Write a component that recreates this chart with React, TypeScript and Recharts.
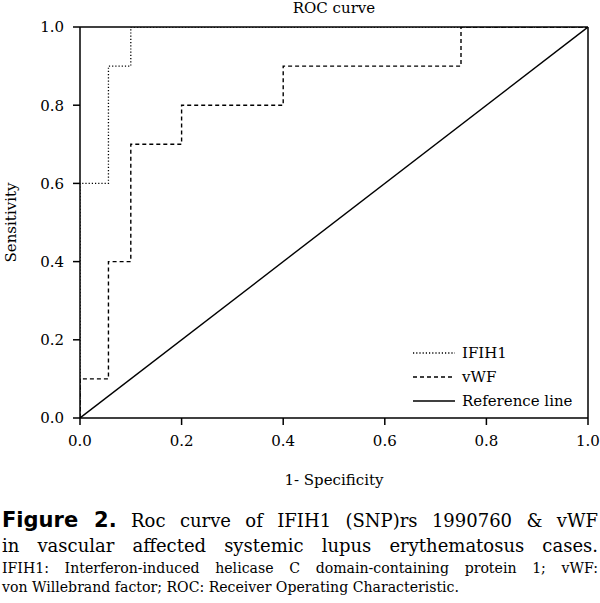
import React from 'react';
import { LineChart, Line, XAxis, YAxis, ReferenceLine, Legend } from 'recharts';

const axisTicks = [0, 0.2, 0.4, 0.6, 0.8, 1.0];
const ifih1Fpr = [0, 0, 0.056, 0.1, 1.0];
const ifih1Tpr = [0, 0.6, 0.9, 1.0, 1.0];
const vwfFpr = [0, 0, 0.056, 0.1, 0.2, 0.4, 0.75, 1.0];
const vwfTpr = [0, 0.1, 0.4, 0.7, 0.8, 0.9, 1.0, 1.0];
const refFpr = [0, 1];
const refTpr = [0, 1];
const seriesNames = ['IFIH1', 'vWF', 'Reference line'];

const titleText = 'ROC curve';
const xLabel = '1- Specificity';
const yLabel = 'Sensitivity';
const captionBold = 'Figure 2.';
const captionLine1 = ' Roc curve of IFIH1 (SNP)rs 1990760 & vWF';
const captionLine2 = 'in vascular affected systemic lupus erythematosus cases.';
const captionLine3 = 'IFIH1: Interferon-induced helicase C domain-containing protein 1; vWF:';
const captionLine4 = 'von Willebrand factor; ROC: Receiver Operating Characteristic.';

const toPoints = (xs: number[], ys: number[]) => xs.map((x, i) => ({ x, y: ys[i] }));
const ifih1Data = toPoints(ifih1Fpr, ifih1Tpr);
const vwfData = toPoints(vwfFpr, vwfTpr);
const refData = toPoints(refFpr, refTpr);

const serif = '"DejaVu Serif", serif';
const dashes = ['1.2 2', '4 3', undefined];
const widths = [1.3, 1.4, 1.4];

const LegendBox = () => (
  <div style={{ fontFamily: serif, fontSize: 15, color: '#000' }}>
    {seriesNames.map((name, i) => (
      <div key={name} style={{ display: 'flex', alignItems: 'center', height: 24 }}>
        <svg width={52} height={6} style={{ display: 'block' }}>
          <line x1={3} y1={3} x2={45} y2={3} stroke="#000" strokeWidth={widths[i]} strokeDasharray={dashes[i]} />
        </svg>
        <span style={{ lineHeight: '24px' }}>{name}</span>
      </div>
    ))}
  </div>
);

const fmt = (v: number) => v.toFixed(1);

export default function App() {
  return (
    <div style={{ position: 'absolute', left: 0, top: 0, width: 600, height: 603, background: '#fff', overflow: 'hidden' }}>
      <div style={{ position: 'absolute', left: 234, width: 200, top: -1, textAlign: 'center', fontFamily: serif, fontSize: 15, lineHeight: '18px', color: '#000' }}>
        {titleText}
      </div>
      <div style={{ position: 'absolute', left: 0, top: 0 }}>
        <LineChart width={600} height={500} margin={{ top: 27, right: 12, bottom: 12, left: 0 }}>
          <XAxis
            type="number"
            dataKey="x"
            domain={[0, 1]}
            ticks={axisTicks}
            tickFormatter={fmt}
            height={70}
            tickSize={7}
            tickMargin={10}
            allowDataOverflow
            axisLine={{ stroke: '#000', strokeWidth: 1.5 }}
            tickLine={{ stroke: '#000', strokeWidth: 1.5 }}
            tick={{ fill: '#000', fontFamily: serif, fontSize: 15 }}
            label={{ value: xLabel, position: 'insideBottom', offset: 3, fill: '#000', fontFamily: serif, fontSize: 15 }}
          />
          <YAxis
            type="number"
            dataKey="y"
            domain={[0, 1]}
            ticks={axisTicks}
            tickFormatter={fmt}
            width={80}
            tickSize={7}
            tickMargin={9}
            allowDataOverflow
            axisLine={{ stroke: '#000', strokeWidth: 1.5 }}
            tickLine={{ stroke: '#000', strokeWidth: 1.5 }}
            tick={{ fill: '#000', fontFamily: serif, fontSize: 15 }}
            label={{ value: yLabel, angle: -90, position: 'insideLeft', offset: 11, fill: '#000', fontFamily: serif, fontSize: 15, style: { textAnchor: 'middle' } }}
          />
          <ReferenceLine y={1} stroke="#000" strokeWidth={1.5} ifOverflow="visible" />
          <ReferenceLine x={1} stroke="#000" strokeWidth={1.5} ifOverflow="visible" />
          <Line data={refData} dataKey="y" name={seriesNames[2]} type="linear" stroke="#000" strokeWidth={widths[2]} dot={false} activeDot={false} isAnimationActive={false} />
          <Line data={vwfData} dataKey="y" name={seriesNames[1]} type="stepAfter" stroke="#000" strokeWidth={widths[1]} strokeDasharray={dashes[1]} dot={false} activeDot={false} isAnimationActive={false} />
          <Line data={ifih1Data} dataKey="y" name={seriesNames[0]} type="stepAfter" stroke="#000" strokeWidth={widths[0]} strokeDasharray={dashes[0]} dot={false} activeDot={false} isAnimationActive={false} />
          <Legend
            layout="horizontal"
            verticalAlign="middle"
            align="center"
            content={() => <LegendBox />}
            wrapperStyle={{ position: 'absolute', left: 410, top: 341, width: 180, height: 75 }}
          />
        </LineChart>
      </div>
      <div style={{ position: 'absolute', left: 2, width: 596, top: 508, color: '#000' }}>
        <div style={{ fontFamily: serif, fontSize: 18, lineHeight: '25px', textAlign: 'justify', textAlignLast: 'justify' }}>
          <span style={{ fontFamily: '"DejaVu Sans", sans-serif', fontWeight: 'bold', fontSize: 21 }}>{captionBold}</span>
          {captionLine1}
        </div>
        <div style={{ fontFamily: serif, fontSize: 18, lineHeight: '25px', textAlign: 'justify', textAlignLast: 'justify' }}>
          {captionLine2}
        </div>
        <div style={{ fontFamily: serif, fontSize: 14.1, lineHeight: '20px', marginTop: 0, textAlign: 'justify', textAlignLast: 'justify' }}>
          {captionLine3}
        </div>
        <div style={{ fontFamily: serif, fontSize: 14.1, lineHeight: '19px', textAlign: 'left' }}>
          {captionLine4}
        </div>
      </div>
    </div>
  );
}
